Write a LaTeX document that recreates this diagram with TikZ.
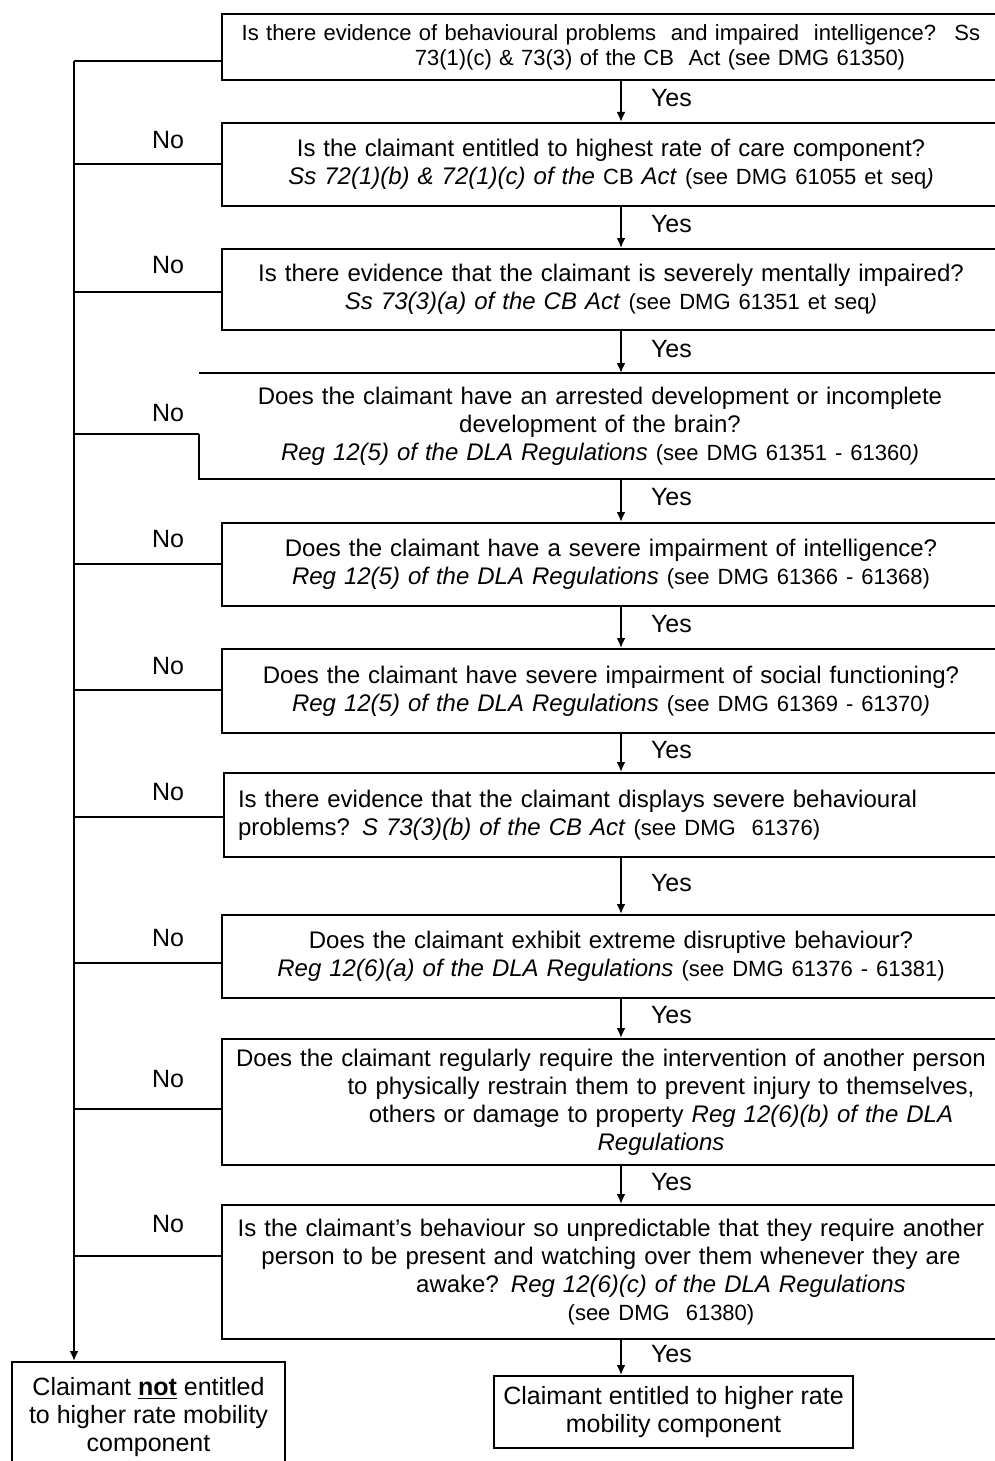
\documentclass[tikz,border=0pt]{standalone}
\usepackage{fontspec}
\setmainfont{Liberation Sans}
\usetikzlibrary{arrows.meta}

\newcommand\seedmg[1]{{\fontsize{11pt}{14pt}\selectfont #1}}

\tikzset{
  qbox/.style={draw, line width=1pt, minimum width=389pt, text width=385pt,
    align=center, inner sep=0pt, font=\fontsize{12pt}{14pt}\selectfont},
  endbox/.style={draw, line width=1pt, inner sep=0pt, align=center,
    font=\fontsize{12.5pt}{14pt}\selectfont},
  nolbl/.style={inner sep=0pt, font=\fontsize{12.5pt}{14pt}\selectfont},
  yeslbl/.style={right=14.5pt, inner sep=0pt, yshift=1.5pt,
    font=\fontsize{12.5pt}{14pt}\selectfont},
  link/.style={line width=1pt},
  arr/.style={line width=1pt, -{Latex[length=5pt,width=4.5pt]}}
}

\begin{document}
\begin{tikzpicture}[x=0.5pt,y=-0.5pt]
  \useasboundingbox (0,0) rectangle (995,1461);

  % question boxes
  \node[qbox, font=\fontsize{11pt}{12.5pt}\selectfont, minimum height=33pt] (b1) at (611,47)
    {Is there evidence of behavioural problems \ and impaired \ intelligence? \ Ss\\
     \hspace*{49pt}73(1)(c) \& 73(3) of the CB \ Act (see DMG 61350)};
  \node[qbox, minimum height=41.5pt] (b2) at (611,164.5)
    {Is the claimant entitled to highest rate of care component?\\
     \textit{Ss 72(1)(b) \& 72(1)(c) of the} \seedmg{CB} \textit{Act} \seedmg{(see DMG 61055 et seq\textit{)}}};
  \node[qbox, minimum height=40.5pt] (b3) at (611,289.5)
    {Is there evidence that the claimant is severely mentally impaired?\\
     \textit{Ss 73(3)(a) of the CB Act} \seedmg{(see DMG 61351 et seq\textit{)}}};
  \node[qbox, draw=none, minimum width=400pt, minimum height=52pt] (b4) at (600,426)
    {Does the claimant have an arrested development or incomplete\\
     development of the brain?\\
     \textit{Reg 12(5) of the DLA Regulations} \seedmg{(see DMG 61351 - 61360\textit{)}}};
  \node[qbox, minimum height=41.5pt] (b5) at (611,564.5)
    {Does the claimant have a severe impairment of intelligence?\\
     \textit{Reg 12(5) of the DLA Regulations} \seedmg{(see DMG 61366 - 61368)}};
  \node[qbox, minimum height=42pt] (b6) at (611,691)
    {Does the claimant have severe impairment of social functioning?\\
     \textit{Reg 12(5) of the DLA Regulations} \seedmg{(see DMG 61369 - 61370\textit{)}}};
  \node[qbox, align=left, text width=375pt, minimum height=42pt] (b7) at (613,815)
    {Is there evidence that the claimant displays severe behavioural\\
     problems? \textit{S 73(3)(b) of the CB Act} \seedmg{(see DMG \ 61376)}};
  \node[qbox, minimum height=41.5pt] (b8) at (611,956.5)
    {Does the claimant exhibit extreme disruptive behaviour?\\
     \textit{Reg 12(6)(a) of the DLA Regulations} \seedmg{(see DMG 61376 - 61381)}};
  \node[qbox, minimum height=63pt] (b9) at (611,1102)
    {Does the claimant regularly require the intervention of another person\\
     \hspace*{50pt}to physically restrain them to prevent injury to themselves,\\
     \hspace*{50pt}others or damage to property \textit{Reg 12(6)(b) of the DLA}\\
     \hspace*{50pt}\textit{Regulations}};
  \node[qbox, minimum height=67pt] (b10) at (611,1272)
    {Is the claimant's behaviour so unpredictable that they require another\\
     person to be present and watching over them whenever they are\\
     \hspace*{50pt}awake? \textit{Reg 12(6)(c) of the DLA Regulations}\\
     \hspace*{50pt}\seedmg{(see DMG \ 61380)}};

  % box 4 has an open left side
  \draw[link] (b4.north west) -- (b4.north east) -- (b4.south east)
    -- (b4.south west) -- (b4.west |- 0,434);

  % outcome boxes
  \node[endbox, minimum width=136.5pt, minimum height=55pt] (nobox) at (148.5,1417)
    {Claimant \textbf{\underline{not}} entitled\\to higher rate mobility\\component};
  \node[endbox, minimum width=179.5pt, minimum height=36pt] (yesbox) at (673.5,1412)
    {Claimant entitled to higher rate\\mobility component};

  % yes column
  \coordinate (yx) at (621,0);
  \draw[arr] (b1.south -| yx) -- node[yeslbl]{Yes} (b2.north -| yx);
  \draw[arr] (b2.south -| yx) -- node[yeslbl]{Yes} (b3.north -| yx);
  \draw[arr] (b3.south -| yx) -- node[yeslbl]{Yes} (b4.north -| yx);
  \draw[arr] (b4.south -| yx) -- node[yeslbl]{Yes} (b5.north -| yx);
  \draw[arr] (b5.south -| yx) -- node[yeslbl]{Yes} (b6.north -| yx);
  \draw[arr] (b6.south -| yx) -- node[yeslbl]{Yes} (b7.north -| yx);
  \draw[arr] (b7.south -| yx) -- node[yeslbl]{Yes} (b8.north -| yx);
  \draw[arr] (b8.south -| yx) -- node[yeslbl]{Yes} (b9.north -| yx);
  \draw[arr] (b9.south -| yx) -- node[yeslbl]{Yes} (b10.north -| yx);
  \draw[arr] (b10.south -| yx) -- node[yeslbl]{Yes} (yesbox.north -| yx);

  % no trunk
  \coordinate (n1) at (74,61);
  \coordinate (n2) at (74,164);
  \coordinate (n3) at (74,292);
  \coordinate (n4) at (74,434);
  \coordinate (n5) at (74,564);
  \coordinate (n6) at (74,690);
  \coordinate (n7) at (74,817);
  \coordinate (n8) at (74,963);
  \coordinate (n9) at (74,1109);
  \coordinate (n10) at (74,1256);

  \foreach \i in {1,...,10}
    \draw[link] (n\i) -- (n\i -| b\i.west);
  \draw[arr] (n1) -- (n1 |- nobox.north);

  \node[nolbl] (no2) at (168,140) {No};
  \node[nolbl] (no3) at (168,265) {No};
  \node[nolbl] (no4) at (168,413) {No};
  \node[nolbl] (no5) at (168,539) {No};
  \node[nolbl] (no6) at (168,666) {No};
  \node[nolbl] (no7) at (168,792) {No};
  \node[nolbl] (no8) at (168,938) {No};
  \node[nolbl] (no9) at (168,1079) {No};
  \node[nolbl] (no10) at (168,1224) {No};
\end{tikzpicture}
\end{document}
